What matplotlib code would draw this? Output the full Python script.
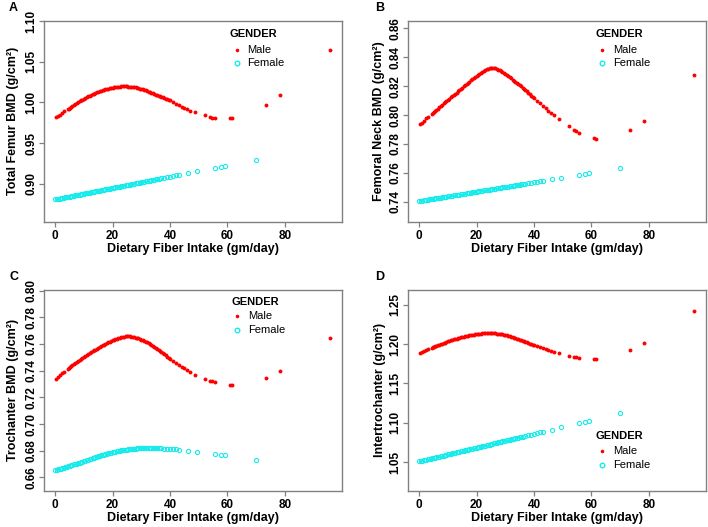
import matplotlib
matplotlib.use("Agg")
import matplotlib.pyplot as plt
from matplotlib.lines import Line2D

# ---------------- data ----------------
male_x = [0.2, 0.8, 1.6, 2.5, 3.0, 4.3, 4.7,
          5, 5.5, 6, 6.5, 7, 7.5, 8, 8.5, 9, 9.5, 10, 10.5, 11, 11.5, 12, 12.5, 13, 13.5,
          14, 14.5, 15, 15.5, 16, 16.5, 17, 17.5, 18, 18.5, 19, 19.5, 20, 20.5, 21, 21.5,
          22, 22.5, 23, 23.5, 24, 24.5, 25, 25.5, 26, 26.5, 27, 27.5, 28, 28.5, 29, 29.5,
          30, 30.5, 31, 31.5, 32, 32.5, 33, 33.5, 34, 34.5, 35, 35.5, 36, 36.5, 37, 37.5,
          38, 38.5, 39, 39.5, 40,
          41, 42, 43, 44, 45, 46, 47,
          48.8, 52.2, 53.8, 54.6, 55.6, 61.0, 61.6, 73.3, 78.4, 95.8]

female_x = [0, 0.5, 1, 1.5, 2, 2.5, 3, 3.5, 4, 4.5, 5, 5.5, 6, 6.5, 7, 7.5, 8, 8.5, 9, 9.5,
            10, 10.5, 11, 11.5, 12, 12.5, 13, 13.5, 14, 14.5, 15, 15.5, 16, 16.5, 17, 17.5,
            18, 18.5, 19, 19.5, 20, 20.5, 21, 21.5, 22, 22.5, 23, 23.5, 24, 24.5, 25, 25.5,
            26, 26.5, 27, 27.5, 28, 28.5, 29, 29.5, 30, 30.5, 31, 31.5, 32, 32.5, 33, 33.5,
            34, 34.5, 35, 35.5, 36,
            37, 38, 39, 40, 41, 42, 43,
            46.3, 49.5, 55.6, 57.6, 59.2, 69.8]

femur_male = [0.9820, 0.9835, 0.9850, 0.9875, 0.9890, 0.9915, 0.9925,
              0.9930, 0.9943, 0.9955, 0.9968, 0.9980, 0.9992, 1.0003, 1.0014, 1.0025, 1.0035,
              1.0045, 1.0055, 1.0065, 1.0074, 1.0083, 1.0092, 1.0100, 1.0108, 1.0115, 1.0123,
              1.0130, 1.0137, 1.0143, 1.0149, 1.0155, 1.0160, 1.0165, 1.0170, 1.0175, 1.0179,
              1.0183, 1.0187, 1.0190, 1.0192, 1.0194, 1.0195, 1.0196, 1.0197, 1.0197, 1.0197,
              1.0196, 1.0195, 1.0194, 1.0192, 1.0190, 1.0188, 1.0185, 1.0181, 1.0176, 1.0171,
              1.0165, 1.0159, 1.0153, 1.0147, 1.0140, 1.0133, 1.0126, 1.0118, 1.0110, 1.0103,
              1.0095, 1.0088, 1.0080, 1.0074, 1.0068, 1.0062, 1.0055, 1.0048, 1.0040, 1.0033,
              1.0025,
              1.0005, 0.9985, 0.9970, 0.9950, 0.9935, 0.9920, 0.9900,
              0.9880, 0.9840, 0.9820, 0.9815, 0.9810, 0.9805, 0.9810, 0.9965, 1.0090, 1.0640]
femur_female = [0.8810, 0.8814, 0.8817, 0.8821, 0.8824, 0.8828, 0.8831, 0.8835, 0.8838, 0.8842,
                0.8845, 0.8849, 0.8852, 0.8856, 0.8859, 0.8863, 0.8866, 0.8870, 0.8873, 0.8877,
                0.8880, 0.8884, 0.8887, 0.8891, 0.8894, 0.8898, 0.8901, 0.8905, 0.8908, 0.8912,
                0.8915, 0.8919, 0.8922, 0.8926, 0.8929, 0.8933, 0.8936, 0.8940, 0.8943, 0.8947,
                0.8950, 0.8954, 0.8957, 0.8961, 0.8964, 0.8968, 0.8971, 0.8975, 0.8978, 0.8982,
                0.8985, 0.8989, 0.8992, 0.8996, 0.8999, 0.9003, 0.9006, 0.9010, 0.9013, 0.9017,
                0.9020, 0.9024, 0.9027, 0.9031, 0.9034, 0.9038, 0.9041, 0.9045, 0.9048, 0.9052,
                0.9055, 0.9059, 0.9062,
                0.9069, 0.9076, 0.9083, 0.9090, 0.9097, 0.9104, 0.9111,
                0.9134, 0.9157, 0.9199, 0.9213, 0.9224, 0.9299]

neck_male = [0.7935, 0.7945, 0.7960, 0.7977, 0.7985, 0.8010, 0.8016,
             0.8020, 0.8028, 0.8037, 0.8045, 0.8054, 0.8062, 0.8071, 0.8080, 0.8088, 0.8097,
             0.8105, 0.8114, 0.8122, 0.8131, 0.8139, 0.8148, 0.8156, 0.8165, 0.8173, 0.8182,
             0.8190, 0.8199, 0.8207, 0.8215, 0.8223, 0.8232, 0.8240, 0.8248, 0.8256, 0.8264,
             0.8271, 0.8278, 0.8285, 0.8292, 0.8298, 0.8305, 0.8311, 0.8316, 0.8321, 0.8325,
             0.8327, 0.8327, 0.8326, 0.8323, 0.8320, 0.8315, 0.8310, 0.8304, 0.8298, 0.8291,
             0.8284, 0.8277, 0.8270, 0.8262, 0.8254, 0.8246, 0.8238, 0.8230, 0.8222, 0.8214,
             0.8206, 0.8198, 0.8190, 0.8182, 0.8173, 0.8164, 0.8155, 0.8145, 0.8135, 0.8125,
             0.8115,
             0.8098, 0.8080, 0.8062, 0.8046, 0.8030, 0.8015, 0.8000,
             0.7972, 0.7926, 0.7896, 0.7890, 0.7873, 0.7842, 0.7835, 0.7896, 0.7958, 0.8277]
neck_female = [0.7405, 0.7407, 0.7408, 0.7410, 0.7411, 0.7413, 0.7415, 0.7416, 0.7418, 0.7420,
               0.7421, 0.7423, 0.7424, 0.7426, 0.7428, 0.7429, 0.7431, 0.7433, 0.7434, 0.7436,
               0.7437, 0.7439, 0.7441, 0.7442, 0.7444, 0.7446, 0.7447, 0.7449, 0.7450, 0.7452,
               0.7454, 0.7455, 0.7457, 0.7458, 0.7460, 0.7462, 0.7463, 0.7465, 0.7467, 0.7468,
               0.7470, 0.7471, 0.7473, 0.7475, 0.7476, 0.7478, 0.7480, 0.7481, 0.7483, 0.7484,
               0.7486, 0.7488, 0.7489, 0.7491, 0.7492, 0.7494, 0.7496, 0.7497, 0.7499, 0.7501,
               0.7502, 0.7504, 0.7505, 0.7507, 0.7509, 0.7510, 0.7512, 0.7514, 0.7515, 0.7517,
               0.7518, 0.7520, 0.7522,
               0.7525, 0.7528, 0.7531, 0.7535, 0.7538, 0.7541, 0.7544,
               0.7555, 0.7565, 0.7585, 0.7592, 0.7597, 0.7631]

troch_male = [0.7340, 0.7352, 0.7368, 0.7383, 0.7393, 0.7413, 0.7420,
              0.7425, 0.7433, 0.7441, 0.7449, 0.7457, 0.7465, 0.7472, 0.7480, 0.7487, 0.7494,
              0.7502, 0.7510, 0.7517, 0.7524, 0.7531, 0.7538, 0.7545, 0.7552, 0.7558, 0.7565,
              0.7572, 0.7578, 0.7584, 0.7590, 0.7596, 0.7602, 0.7607, 0.7612, 0.7617, 0.7622,
              0.7627, 0.7632, 0.7636, 0.7640, 0.7644, 0.7648, 0.7651, 0.7654, 0.7656, 0.7657,
              0.7658, 0.7658, 0.7657, 0.7656, 0.7654, 0.7652, 0.7649, 0.7646, 0.7642, 0.7638,
              0.7634, 0.7629, 0.7624, 0.7618, 0.7612, 0.7606, 0.7599, 0.7592, 0.7585, 0.7578,
              0.7570, 0.7563, 0.7555, 0.7548, 0.7540, 0.7532, 0.7524, 0.7515, 0.7506, 0.7497,
              0.7488,
              0.7473, 0.7459, 0.7445, 0.7431, 0.7418, 0.7405, 0.7393,
              0.7368, 0.7340, 0.7325, 0.7320, 0.7313, 0.7293, 0.7290, 0.7345, 0.7400, 0.7645]
troch_female = [0.6655, 0.6657, 0.6660, 0.6663, 0.6666, 0.6670, 0.6673, 0.6677, 0.6680, 0.6684,
                0.6687, 0.6691, 0.6694, 0.6697, 0.6700, 0.6704, 0.6707, 0.6711, 0.6714, 0.6718,
                0.6721, 0.6725, 0.6729, 0.6733, 0.6736, 0.6740, 0.6744, 0.6748, 0.6751, 0.6755,
                0.6758, 0.6762, 0.6765, 0.6768, 0.6771, 0.6774, 0.6777, 0.6780, 0.6783, 0.6786,
                0.6789, 0.6792, 0.6794, 0.6796, 0.6798, 0.6800, 0.6802, 0.6804, 0.6806, 0.6808,
                0.6809, 0.6811, 0.6812, 0.6813, 0.6814, 0.6815, 0.6816, 0.6817, 0.6818, 0.6819,
                0.6819, 0.6820, 0.6820, 0.6820, 0.6820, 0.6820, 0.6820, 0.6820, 0.6820, 0.6820,
                0.6819, 0.6819, 0.6818,
                0.6817, 0.6816, 0.6814, 0.6813, 0.6811, 0.6810, 0.6808,
                0.6801, 0.6794, 0.6778, 0.6771, 0.6767, 0.6731]

inter_male = [1.1886, 1.1895, 1.1910, 1.1924, 1.1932, 1.1953, 1.1958,
              1.1962, 1.1970, 1.1977, 1.1984, 1.1991, 1.1998, 1.2005, 1.2012, 1.2019, 1.2026,
              1.2033, 1.2040, 1.2046, 1.2052, 1.2058, 1.2064, 1.2069, 1.2075, 1.2080, 1.2085,
              1.2090, 1.2095, 1.2099, 1.2103, 1.2107, 1.2111, 1.2115, 1.2118, 1.2121, 1.2124,
              1.2127, 1.2130, 1.2132, 1.2134, 1.2136, 1.2138, 1.2139, 1.2140, 1.2140, 1.2140,
              1.2140, 1.2139, 1.2138, 1.2136, 1.2134, 1.2132, 1.2129, 1.2126, 1.2122, 1.2118,
              1.2114, 1.2109, 1.2104, 1.2099, 1.2093, 1.2087, 1.2081, 1.2075, 1.2068, 1.2062,
              1.2055, 1.2048, 1.2041, 1.2034, 1.2027, 1.2020, 1.2013, 1.2006, 1.1999, 1.1993,
              1.1986,
              1.1972, 1.1959, 1.1947, 1.1935, 1.1924, 1.1914, 1.1905,
              1.1886, 1.1852, 1.1835, 1.1830, 1.1822, 1.1814, 1.1814, 1.1924, 1.2013, 1.2415]
inter_female = [1.0508, 1.0512, 1.0517, 1.0521, 1.0526, 1.0530, 1.0534, 1.0539, 1.0543, 1.0547,
                1.0552, 1.0556, 1.0561, 1.0565, 1.0569, 1.0574, 1.0578, 1.0582, 1.0587, 1.0591,
                1.0596, 1.0600, 1.0604, 1.0609, 1.0613, 1.0617, 1.0622, 1.0626, 1.0631, 1.0635,
                1.0639, 1.0644, 1.0648, 1.0652, 1.0657, 1.0661, 1.0666, 1.0670, 1.0674, 1.0679,
                1.0683, 1.0687, 1.0692, 1.0696, 1.0701, 1.0705, 1.0709, 1.0714, 1.0718, 1.0722,
                1.0727, 1.0731, 1.0736, 1.0740, 1.0744, 1.0749, 1.0753, 1.0757, 1.0762, 1.0766,
                1.0771, 1.0775, 1.0779, 1.0784, 1.0788, 1.0792, 1.0797, 1.0801, 1.0806, 1.0810,
                1.0814, 1.0819, 1.0823,
                1.0832, 1.0841, 1.0849, 1.0858, 1.0867, 1.0876, 1.0884,
                1.0913, 1.0941, 1.0995, 1.1012, 1.1026, 1.1119]

panel_letters = ["A", "B", "C", "D"]
y_labels = ["Total Femur BMD (g/cm²)", "Femoral Neck BMD (g/cm²)",
            "Trochanter BMD (g/cm²)", "Intertrochanter (g/cm²)"]
x_label = "Dietary Fiber Intake (gm/day)"
x_ticks = [0, 20, 40, 60, 80]
y_ticks = [[0.90, 0.95, 1.00, 1.05, 1.10],
           [0.74, 0.76, 0.78, 0.80, 0.82, 0.84, 0.86],
           [0.66, 0.68, 0.70, 0.72, 0.74, 0.76, 0.78, 0.80],
           [1.05, 1.10, 1.15, 1.20, 1.25]]
legend_title = "GENDER"
legend_labels = ["Male", "Female"]

# ---------------- style ----------------
W, H = 708, 527
plt.rcParams['font.family'] = ['Liberation Sans', 'DejaVu Sans']
RED = "#FF0000"
CYAN = "#18EBEB"
GRAY = "#808080"

fig = plt.figure(figsize=(W / 100, H / 100), dpi=100)

# axes boxes in pixel coords: left, right, top, bottom
boxes = [(44.3, 341.7, 20.7, 221.7), (408.3, 705.7, 20.7, 221.7),
         (44.3, 341.7, 289.7, 490.7), (408.3, 705.7, 289.7, 490.7)]
ylims = [(0.8537, 1.1003), (0.7262, 0.8653), (0.6500, 0.8008), (1.0135, 1.2691)]
males = [femur_male, neck_male, troch_male, inter_male]
females = [femur_female, neck_female, troch_female, inter_female]
letter_pos = [(13, 8), (380, 8), (14, 277), (380, 277)]
ylabel_x = [13, 379, 13, 380]
xlabel_y = [249, 249, 518, 518]
# legend: title left x, title y, marker x, text x, male y, female y
legend_pos = [(230, 34, 237, 247, 50, 63), (596, 34, 602, 613, 50, 63),
              (231, 302, 237, 248, 316, 330), (596, 436, 602, 613, 451, 465)]


def fx(x):
    return x / W


def fy(y):
    return 1 - y / H


for i in range(4):
    l, r, t, b = boxes[i]
    ax = fig.add_axes([fx(l), fy(b), (r - l) / W, (b - t) / H])
    ax.plot(male_x, males[i], linestyle='none', marker='o', ms=2.8, mew=0,
            color=RED)
    ax.plot(female_x, females[i], linestyle='none', marker='o', ms=3.0,
            mfc='none', mec=CYAN, mew=0.8)
    ax.set_xlim(-3.8, 99.8)
    ax.set_ylim(*ylims[i])
    ax.set_xticks(x_ticks)
    ax.set_xticklabels([str(v) for v in x_ticks])
    ax.set_yticks(y_ticks[i])
    ax.set_yticklabels(["%.2f" % v for v in y_ticks[i]])
    for s in ax.spines.values():
        s.set_color(GRAY)
        s.set_linewidth(1.0)
    ax.tick_params(axis='both', direction='out', length=3.5, width=0.9,
                   color=GRAY, labelsize=8.5, labelcolor='black')
    ax.tick_params(axis='x', pad=2.5)
    ax.tick_params(axis='y', pad=1.5, labelrotation=90)
    for lab in ax.get_yticklabels():
        lab.set_va('center')
        lab.set_fontweight('bold')
    for lab in ax.get_xticklabels():
        lab.set_fontweight('bold')

    fig.text(fx(letter_pos[i][0]), fy(letter_pos[i][1]), panel_letters[i],
             ha='center', va='center', fontsize=9, fontweight='bold')
    fig.text(fx(ylabel_x[i]), fy((t + b) / 2), y_labels[i], rotation=90,
             ha='center', va='center', fontsize=9, fontweight='bold')
    fig.text(fx((l + r) / 2), fy(xlabel_y[i]), x_label,
             ha='center', va='center', fontsize=9, fontweight='bold')

    tx, ty, mx, txx, my1, my2 = legend_pos[i]
    fig.text(fx(tx), fy(ty), legend_title, ha='left', va='center',
             fontsize=8, fontweight='bold')
    fig.add_artist(Line2D([fx(mx)], [fy(my1)], transform=fig.transFigure,
                          linestyle='none', marker='o', ms=2.6, mew=0, color=RED))
    fig.add_artist(Line2D([fx(mx)], [fy(my2)], transform=fig.transFigure,
                          linestyle='none', marker='o', ms=3.3, mfc='none',
                          mec=CYAN, mew=1.0))
    fig.text(fx(txx), fy(my1), legend_labels[0], ha='left', va='center', fontsize=8)
    fig.text(fx(txx), fy(my2), legend_labels[1], ha='left', va='center', fontsize=8)

fig.savefig("out.png", dpi=100)
